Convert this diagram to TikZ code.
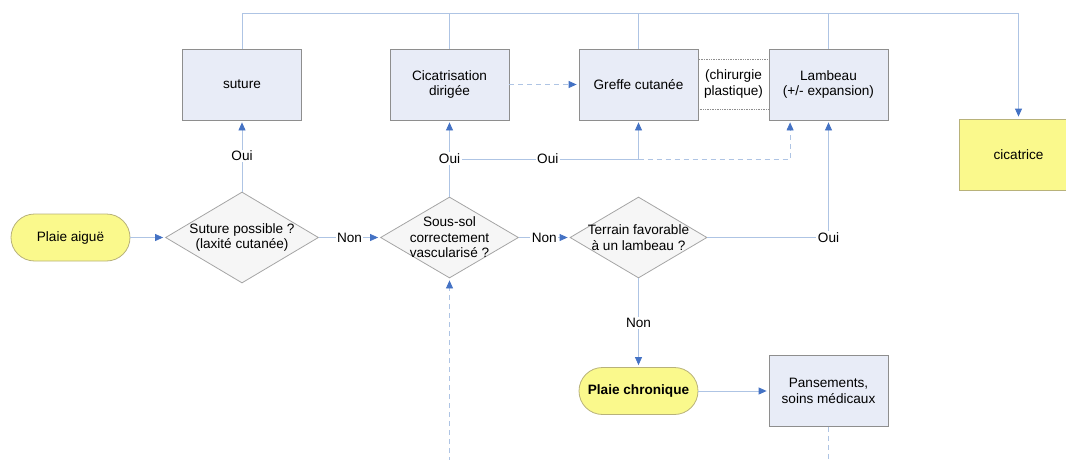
\documentclass[tikz,border=0pt]{standalone}
\usepackage{fontspec}
\setmainfont{Liberation Sans}
\usetikzlibrary{shapes.geometric,arrows.meta,calc}
\definecolor{boxfill}{HTML}{E8ECF7}
\definecolor{boxdraw}{HTML}{8E8E8E}
\definecolor{yelfill}{HTML}{FAF98C}
\definecolor{yeldraw}{HTML}{B8B27A}
\definecolor{dmfill}{HTML}{F6F6F6}
\definecolor{dmdraw}{HTML}{A5A5A5}
\definecolor{linecol}{HTML}{AEC4E4}
\definecolor{tipcol}{HTML}{4472C4}
\tikzset{
  every node/.style={font=\fontsize{13.6}{15.5}\selectfont, align=center},
  procbox/.style={draw=boxdraw, fill=boxfill, line width=0.8pt, minimum width=119pt, minimum height=71pt, inner sep=0pt},
  endbox/.style={draw=yeldraw, fill=yelfill, line width=0.8pt, minimum width=119pt, minimum height=71pt, inner sep=0pt},
  term/.style={draw=yeldraw, fill=yelfill, line width=0.8pt, minimum width=119pt, minimum height=47pt, rounded corners=23.5pt, inner sep=0pt},
  decision/.style={shape=diamond, draw=dmdraw, fill=dmfill, line width=0.8pt, inner sep=0pt},
  conn/.style={draw=linecol, line width=0.8pt},
  dconn/.style={draw=linecol, line width=0.8pt, dash pattern=on 5pt off 4pt},
  tip/.style={-{Triangle[length=8pt,width=7pt,color=tipcol]}, shorten >=2pt},
  lbl/.style={fill=white, inner sep=1.5pt},
}
\begin{document}
\begin{tikzpicture}[x=1pt,y=-1pt]
\useasboundingbox (0,0) rectangle (1066,460);
\clip (0,0) rectangle (1066,460);

% dotted frame between graft and flap
\node[draw=boxdraw, densely dotted, line width=0.7pt, minimum width=71pt, minimum height=50pt, inner sep=0pt] (chir) at (733.5,84) {(chirurgie\\plastique)};

% boxes
\node[procbox] (suture) at (242,84.5) {suture};
\node[procbox] (cicat) at (449.5,84.5) {Cicatrisation\\dirigée};
\node[procbox] (greffe) at (638.5,84.5) {Greffe cutanée};
\node[procbox] (lambeau) at (828.5,84.5) {Lambeau\\(+/- expansion)};
\node[endbox] (cicatrice) at (1018.5,154.5) {cicatrice};
\node[procbox] (pans) at (828.5,391) {Pansements,\\soins médicaux};

% terminals
\node[term] (plaieA) at (70.5,237.5) {Plaie aiguë};
\node[term] (plaieC) at (638.5,391) {\bfseries Plaie chronique};

% decisions
\node[decision, minimum width=153pt, minimum height=91pt,
  label={[align=center]center:Suture possible ?\\(laxité cutanée)}] (d1) at (242,237.5) {};
\node[decision, minimum width=138pt, minimum height=81pt,
  label={[align=center]center:Sous-sol\\correctement\\vascularisé ?}] (d2) at (449.5,237.5) {};
\node[decision, minimum width=137pt, minimum height=81pt,
  label={[align=center]center:Terrain favorable\\à un lambeau ?}] (d3) at (638.5,237.5) {};

% coordinates
\coordinate (busL) at (242,13);
\coordinate (busR) at (1018.5,13);
\coordinate (j1) at (449.5,159);
\coordinate (j2) at (638.5,159);
\coordinate (lamb2) at ($(lambeau.south west)+(21.5,0)$);
\coordinate (pbot) at (828.5,462);
\coordinate (d2bot) at (449.5,462);

% top bus
\draw[conn] (suture.north) -- (busL) -- (busR);
\draw[conn,tip] (busR) -- (cicatrice.north);
\draw[conn] (cicat.north) -- (cicat.north |- busL);
\draw[conn] (greffe.north) -- (greffe.north |- busL);
\draw[conn] (lambeau.north) -- (lambeau.north |- busL);

% main flow
\draw[conn,tip] (plaieA.east) -- (d1.west);
\draw[conn,tip] (d1.north) -- node[lbl]{Oui} (suture.south);
\draw[conn,tip] (d1.east) -- node[lbl]{Non} (d2.west);

\draw[dconn,tip] (j2) -| (lamb2);
\draw[conn,tip] (j1) -| node[lbl,pos=0.26]{Oui} (greffe.south);
\draw[conn,tip] (d2.north) -- node[lbl]{Oui} (cicat.south);
\draw[dconn,tip] (cicat.east) -- (greffe.west);
\draw[conn,tip] (d2.east) -- node[lbl]{Non} (d3.west);
\draw[conn,tip] (d3.east) -| node[lbl,pos=0.5]{Oui} (lambeau.south);
\draw[conn,tip] (d3.south) -- node[lbl]{Non} (plaieC.north);
\draw[conn,tip] (plaieC.east) -- (pans.west);
\draw[dconn] (pans.south) -- (pbot);
\draw[dconn,tip] (d2bot) -- (d2.south);
\end{tikzpicture}
\end{document}
